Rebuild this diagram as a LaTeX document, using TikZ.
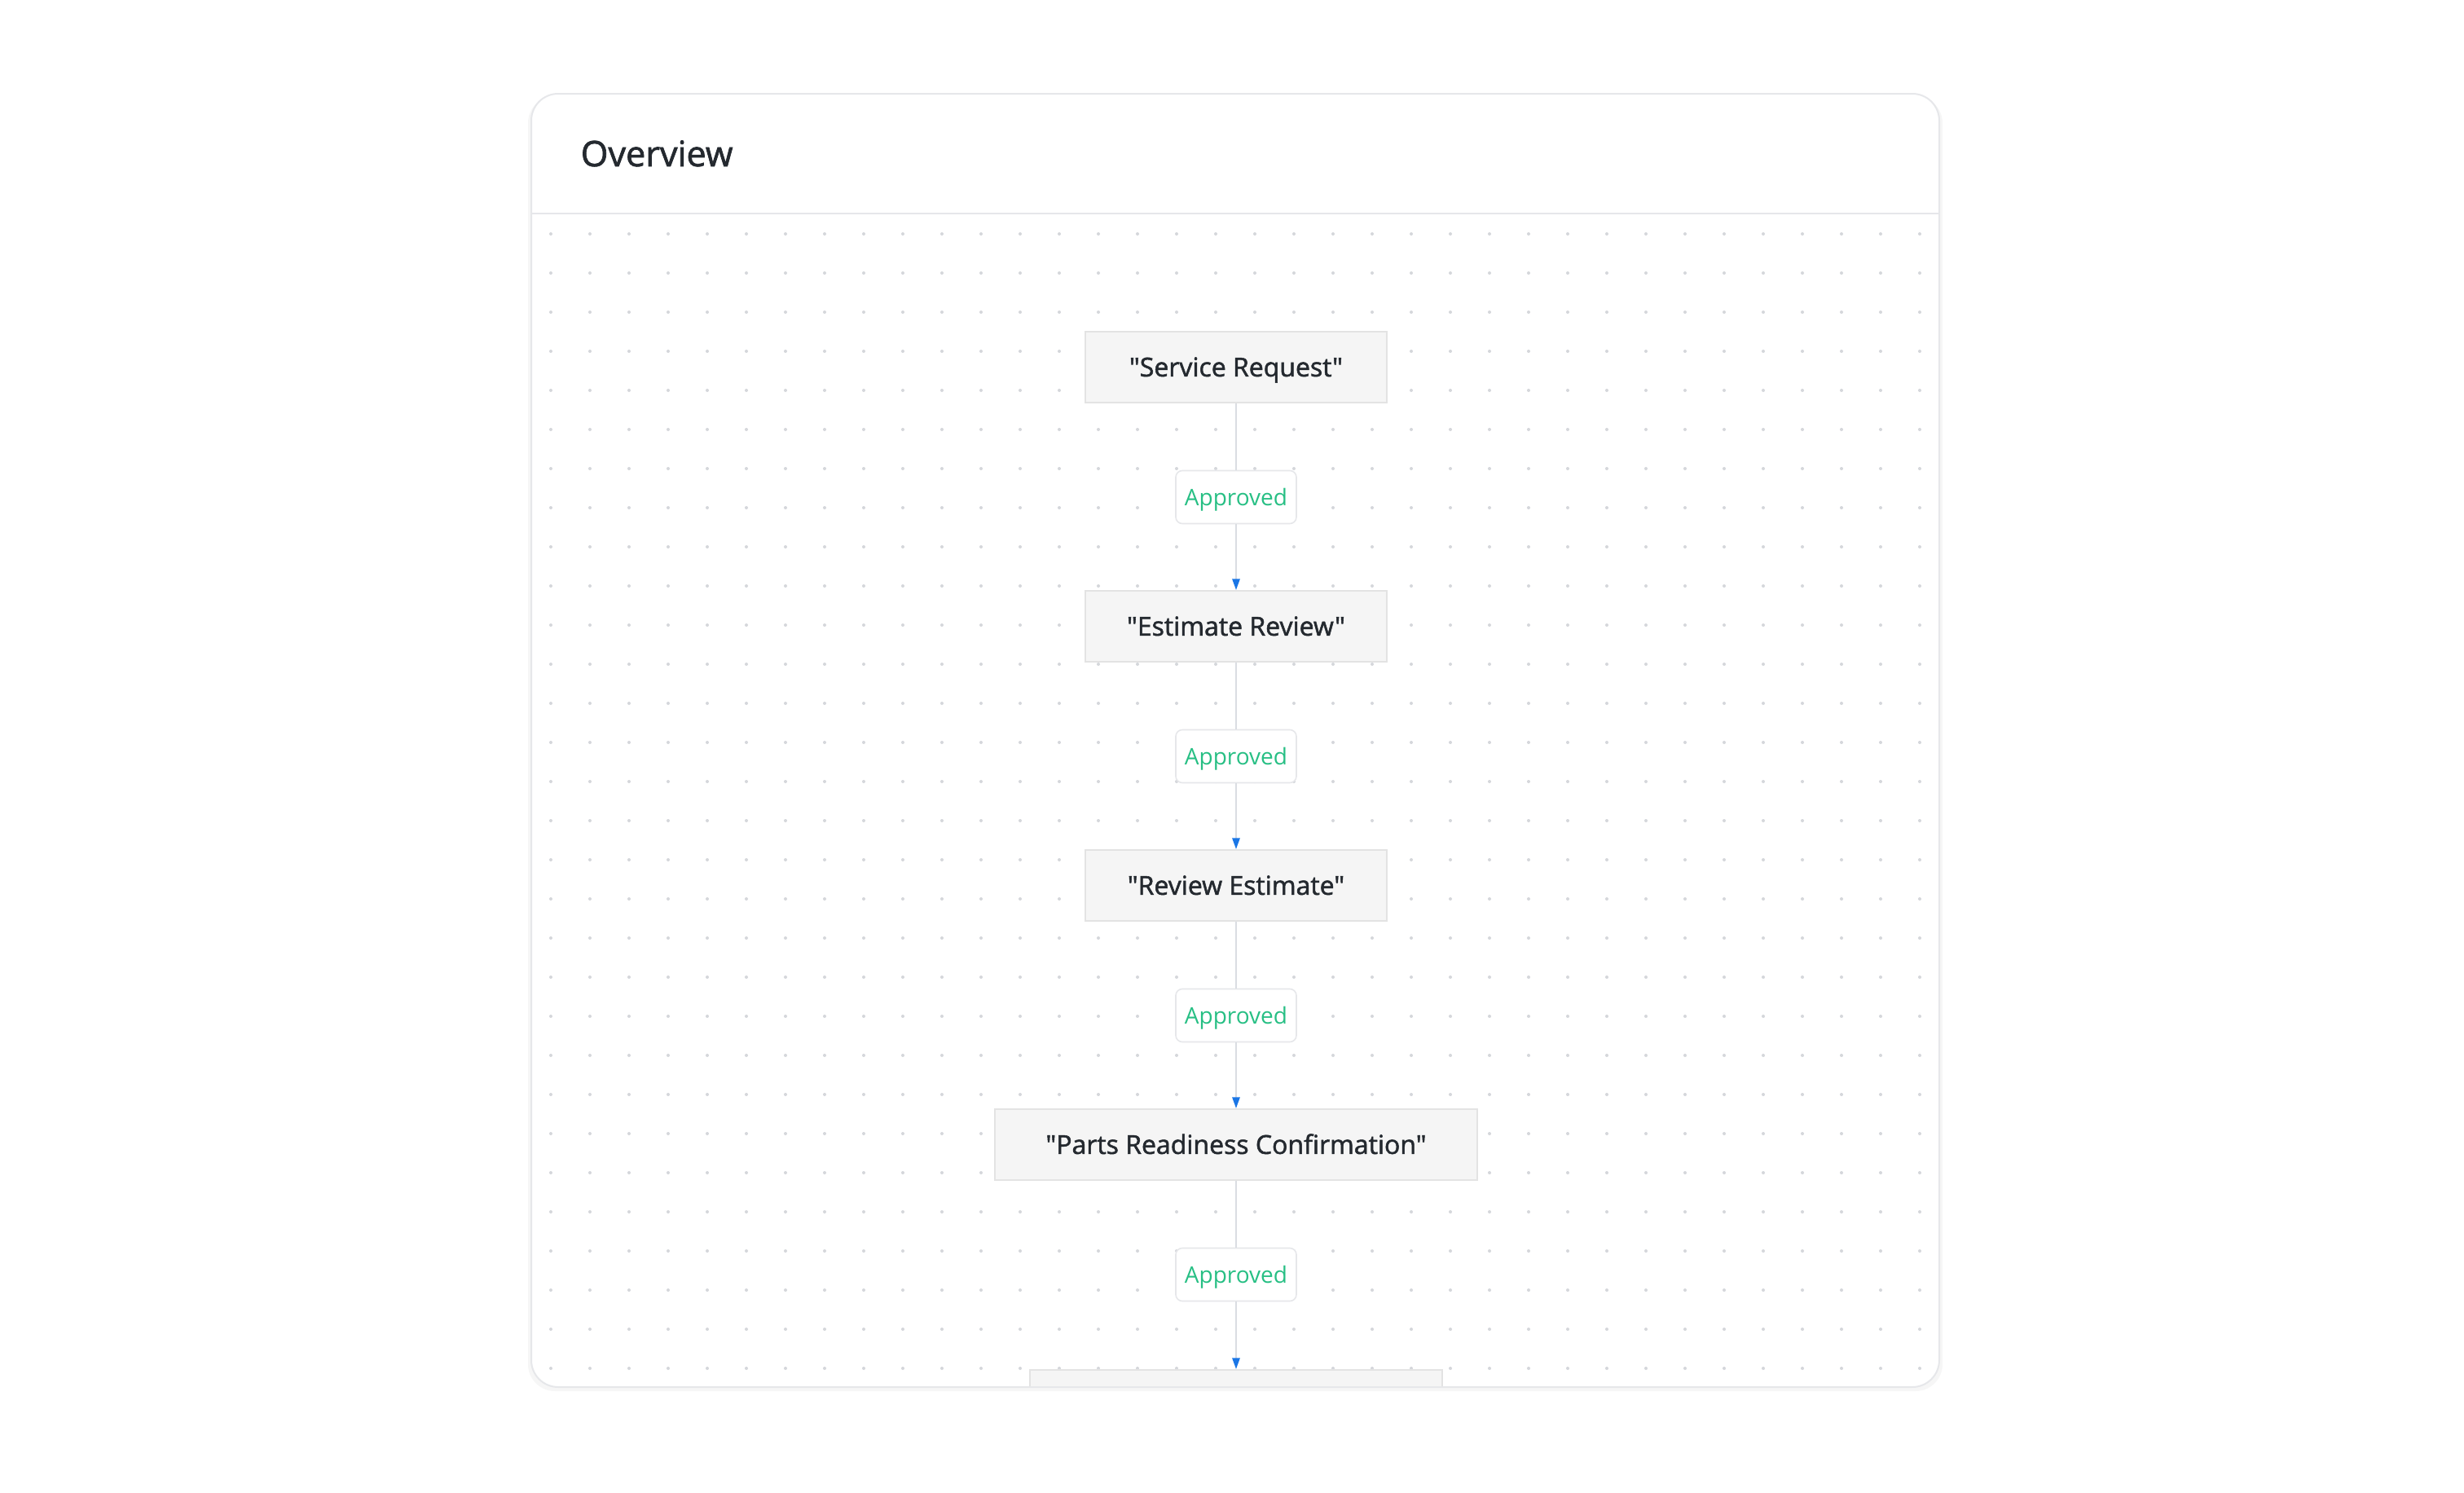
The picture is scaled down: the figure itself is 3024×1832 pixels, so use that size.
\documentclass[tikz,border=0pt]{standalone}
\usepackage{fontspec}
\setmainfont{Open Sans}[Ligatures=TeXOff]
\newfontfamily\medfont{Open Sans}[Ligatures=TeXOff, FakeBold=1.6]
\usetikzlibrary{arrows.meta,positioning}

\definecolor{ink}{HTML}{24292F}
\definecolor{cardline}{HTML}{E6E7EA}
\definecolor{boxfill}{HTML}{F5F5F5}
\definecolor{boxline}{HTML}{E3E3E3}
\definecolor{dotgray}{HTML}{D5D7DB}
\definecolor{edgegray}{HTML}{DADDE2}
\definecolor{okgreen}{HTML}{27BF84}
\definecolor{tipblue}{HTML}{1A76E6}

\tikzset{
    stepbox/.style={draw=boxline, fill=boxfill, line width=0.5pt, inner sep=0pt,
        minimum height=21.75pt, text height=5.7pt, text depth=0pt, text=ink,
        font=\medfont\fontsize{8}{10}\selectfont},
    okbox/.style={draw=cardline, fill=white, line width=0.4pt, rounded corners=2pt,
        inner sep=0pt, minimum width=37pt, minimum height=16.25pt,
        text height=5pt, text depth=0pt, text=okgreen,
        font=\fontsize{7}{9}\selectfont},
    edge/.style={draw=edgegray, line width=0.5pt},
    tip/.style={-{Triangle[length=3.4pt, width=2.3pt, color=tipblue]}},
}

\begin{document}
\begin{tikzpicture}[x=0.25pt, y=-0.25pt]
    \useasboundingbox (0, 0) rectangle (3024, 1832);

    % カード
    \fill[black, opacity=0.035, rounded corners=8.25pt] (648, 118) rectangle (2384, 1707);
    \filldraw[fill=white, draw=cardline, line width=0.5pt, rounded corners=8.25pt]
        (652, 115) rectangle (2380, 1702);
    \draw[cardline, line width=0.5pt] (652, 262) -- (2380, 262);

    % 見出し
    \node[anchor=base west, text=ink, font=\medfont\fontsize{10.8}{13}\selectfont, inner sep=0pt]
        (title) at (712, 204) {Overview};

    % 点
    \foreach \i in {0,...,35} {
        \foreach \j in {0,...,29} {
            \fill[dotgray] (676 + 48*\i, 287 + 48*\j) circle (0.5pt);
        }
    }

    % ステップ
    \node[stepbox, minimum width=92.5pt] (sr) at (1517, 450.5) {"Service Request"};
    \node[stepbox, minimum width=92.5pt] (er) at (1517, 768.5) {"Estimate Review"};
    \node[stepbox, minimum width=92.5pt] (re) at (1517, 1086.5) {"Review Estimate"};
    \node[stepbox, minimum width=148pt] (pr) at (1517, 1404.5) {"Parts Readiness Confirmation"};
    % 下端で切れる箱
    \begin{scope}
        \clip[rounded corners=8.25pt] (652, 115) rectangle (2380, 1701);
        \node[stepbox, minimum width=126.5pt] (nx) at (1517, 1724.5) {};
    \end{scope}

    % ラベル
    \node[okbox] (ok1) at (1517, 610) {Approved};
    \node[okbox] (ok2) at (1517, 928) {Approved};
    \node[okbox] (ok3) at (1517, 1246) {Approved};
    \node[okbox] (ok4) at (1517, 1564) {Approved};

    % 線
    \foreach \a / \b / \c in {sr/ok1/er, er/ok2/re, re/ok3/pr, pr/ok4/nx} {
        \draw[edge] (\a) -- (\b);
        \draw[edge, tip] (\b) -- (\c);
    }

\end{tikzpicture}
\end{document}
